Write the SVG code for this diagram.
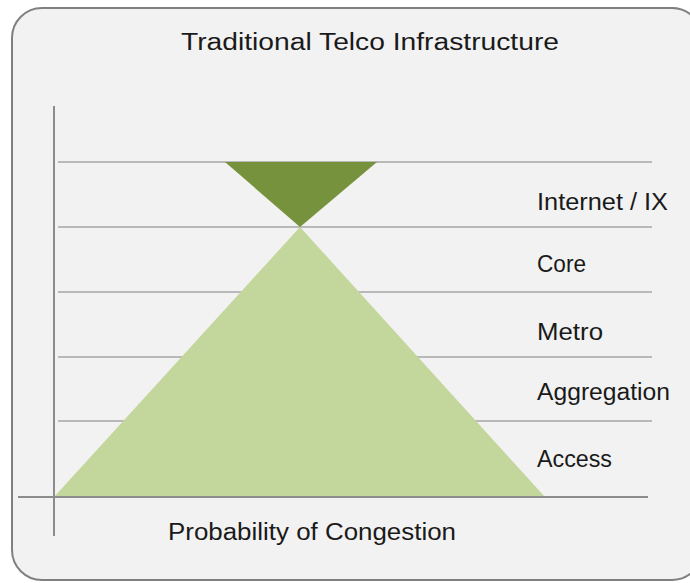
<svg xmlns="http://www.w3.org/2000/svg" width="690" height="583" viewBox="0 0 690 583">
<style>
.lbl{font-family:"Liberation Sans",Arial,sans-serif;font-size:23px;fill:#1a1a1a}
.grid{stroke:#a6a6a6;stroke-width:1.3;fill:none}
.axis{stroke:#8c8c8c;stroke-width:2;fill:none}
</style>
<rect id="frame" x="12" y="8" width="690" height="572" rx="30" ry="30" fill="#f2f2f2" stroke="#808080" stroke-width="2"/>
<text id="title" class="lbl" x="370" y="50" text-anchor="middle" font-size="26" textLength="378" lengthAdjust="spacingAndGlyphs">Traditional Telco Infrastructure</text>
<g id="connectors">
<line class="grid" x1="58" y1="162" x2="652" y2="162"/>
<line class="grid" x1="58" y1="227" x2="652" y2="227"/>
<line class="grid" x1="58" y1="292" x2="652" y2="292"/>
<line class="grid" x1="58" y1="357" x2="652" y2="357"/>
<line class="grid" x1="58" y1="421" x2="652" y2="421"/>
</g>
<g id="triangle-top"><polygon points="225,162 377,162 300,227" fill="#76923c"/></g>
<g id="triangle-main"><polygon points="300,227 545,497 54,497" fill="#c3d69b"/></g>
<g id="axes">
<line class="axis" x1="54" y1="106" x2="54" y2="536"/>
<line class="axis" x1="18" y1="497" x2="648" y2="497"/>
</g>
<g id="label-internet"><text class="lbl" x="537" y="210" textLength="131" lengthAdjust="spacingAndGlyphs">Internet / IX</text></g>
<g id="label-core"><text class="lbl" x="537" y="272" textLength="49" lengthAdjust="spacingAndGlyphs">Core</text></g>
<g id="label-metro"><text class="lbl" x="537" y="340" textLength="66" lengthAdjust="spacingAndGlyphs">Metro</text></g>
<g id="label-aggregation"><text class="lbl" x="537" y="400" textLength="133" lengthAdjust="spacingAndGlyphs">Aggregation</text></g>
<g id="label-access"><text class="lbl" x="537" y="467" textLength="75" lengthAdjust="spacingAndGlyphs">Access</text></g>
<g id="label-x"><text class="lbl" x="168" y="540" textLength="288" lengthAdjust="spacingAndGlyphs">Probability of Congestion</text></g>
</svg>
